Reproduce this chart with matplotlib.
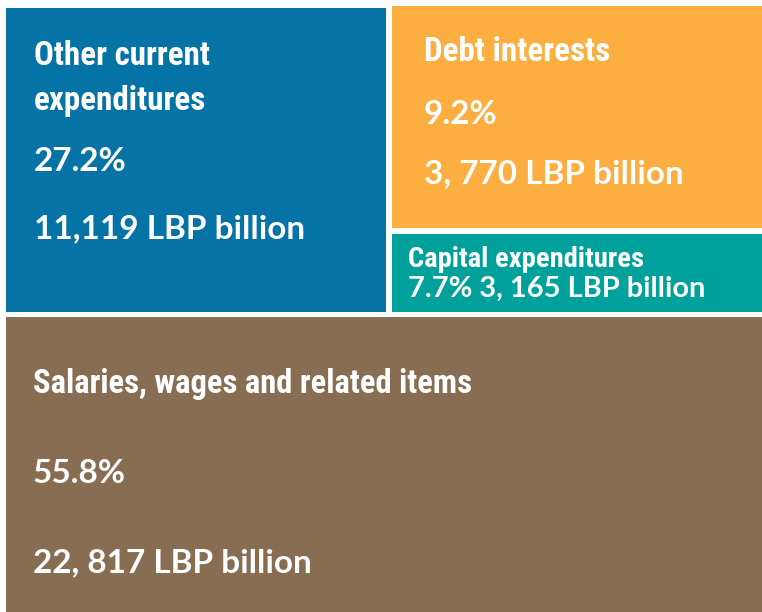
import matplotlib
matplotlib.use("Agg")
import matplotlib.pyplot as plt
from matplotlib.patches import Rectangle
from matplotlib import font_manager

# ---- data ----
categories = ["Other current\nexpenditures", "Debt interests", "Capital expenditures",
              "Salaries, wages and related items"]
shares = ["27.2%", "9.2%", "7.7%", "55.8%"]
amounts = ["11,119 LBP billion", "3, 770 LBP billion", "3, 165 LBP billion",
           "22, 817 LBP billion"]

# ---- layout (pixel boxes: x0, y0, x1, y1) ----
boxes = [(6, 8, 386, 312), (392, 6, 762, 228), (392, 234, 762, 312), (6, 317, 762, 612)]
colors = ["#0673A6", "#FCAE40", "#00A19A", "#876D51"]

names = {f.name for f in font_manager.fontManager.ttflist}
title_font = [n for n in ["Liberation Sans Narrow", "Roboto Condensed", "DejaVu Sans"] if n in names]
num_font = [n for n in ["Lato", "Open Sans", "DejaVu Sans"] if n in names]

W, H = 762, 612
fig = plt.figure(figsize=(W / 100, H / 100), dpi=100)
ax = fig.add_axes([0, 0, 1, 1])
ax.set_xlim(0, W)
ax.set_ylim(H, 0)
ax.axis("off")

for (x0, y0, x1, y1), c in zip(boxes, colors):
    ax.add_patch(Rectangle((x0, y0), x1 - x0, y1 - y0, facecolor=c, edgecolor="none"))

def t(x, y, s, fam, size, weight="bold"):
    ax.text(x, y, s, family=fam, fontsize=size, fontweight=weight, color="white",
            ha="left", va="baseline")

TS = 23.8
NS = 24
# Other current expenditures
t(34, 65, "Other current", title_font, TS)
t(34, 110, "expenditures", title_font, TS)
t(34, 171, shares[0], num_font, NS)
t(34, 238, amounts[0], num_font, NS)

# Debt interests
t(424, 61, categories[1], title_font, TS)
t(424, 124, shares[1], num_font, NS)
t(424, 183, amounts[1], num_font, NS)

# Capital expenditures
t(408, 267, categories[2], title_font, 20.5)
t(408, 297, shares[2] + " " + amounts[2], num_font, 20.9)

# Salaries
t(33, 393, categories[3], title_font, 23.5)
t(33, 483, shares[3], num_font, NS)
t(33, 572, amounts[3], num_font, NS)

fig.savefig("out.png", dpi=100)
